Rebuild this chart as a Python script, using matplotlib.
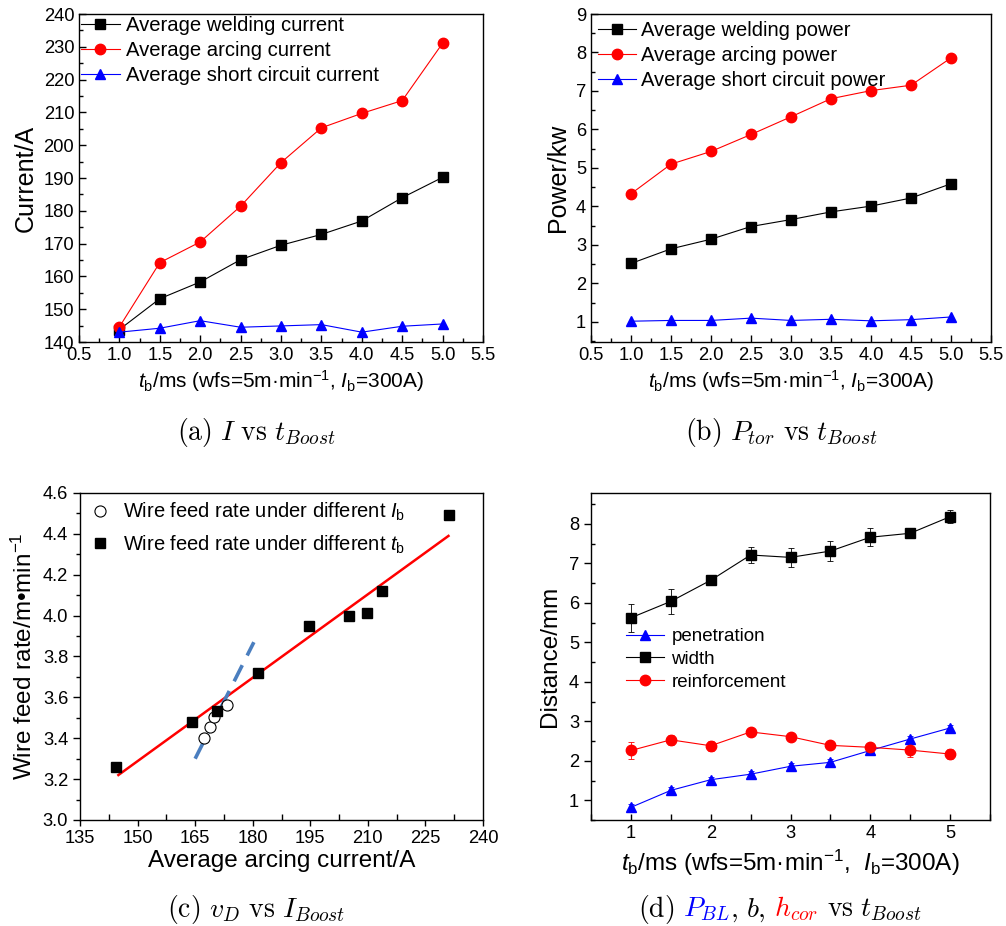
import numpy as np
import matplotlib
matplotlib.use("Agg")
import matplotlib.pyplot as plt
from matplotlib.ticker import MultipleLocator
from matplotlib.offsetbox import TextArea, HPacker, AnnotationBbox

plt.rcParams['font.family'] = ['Liberation Sans', 'DejaVu Sans']
plt.rcParams['mathtext.fontset'] = 'custom'
plt.rcParams['mathtext.rm'] = 'Liberation Sans'
plt.rcParams['mathtext.it'] = 'Liberation Sans:italic'
plt.rcParams['mathtext.bf'] = 'Liberation Sans:bold'

# ---------------- data ----------------
tb = [1.0, 1.5, 2.0, 2.5, 3.0, 3.5, 4.0, 4.5, 5.0]

weld_current = [143.8, 153.2, 158.3, 165.1, 169.5, 172.8, 176.9, 184.0, 190.2]
arc_current = [144.6, 164.2, 170.5, 181.4, 194.7, 205.3, 209.7, 213.6, 231.1]
short_current = [143.0, 144.2, 146.5, 144.5, 144.9, 145.3, 143.0, 144.8, 145.5]

weld_power = [2.52, 2.90, 3.15, 3.48, 3.66, 3.86, 4.01, 4.22, 4.59]
arc_power = [4.33, 5.10, 5.43, 5.87, 6.33, 6.80, 7.01, 7.15, 7.86]
short_power = [1.02, 1.04, 1.04, 1.10, 1.04, 1.07, 1.03, 1.06, 1.13]

ib_current = [167.3, 168.9, 170.0, 173.2]
ib_wfr = [3.40, 3.455, 3.503, 3.563]
tb_current = [144.5, 164.3, 170.6, 181.3, 194.7, 205.2, 209.7, 213.7, 231.2]
tb_wfr = [3.26, 3.48, 3.535, 3.72, 3.947, 4.00, 4.012, 4.122, 4.49]
fit_red_x = [145.0, 231.0]
fit_red_y = [3.22, 4.39]
fit_blue_x = [165.0, 180.3]
fit_blue_y = [3.30, 3.87]

width = [5.62, 6.035, 6.57, 7.21, 7.15, 7.31, 7.66, 7.76, 8.18]
width_err = [0.36, 0.31, 0.05, 0.20, 0.25, 0.26, 0.23, 0.06, 0.16]
reinf = [2.26, 2.53, 2.38, 2.73, 2.61, 2.39, 2.34, 2.27, 2.17]
reinf_err = [0.22, 0.12, 0.13, 0.05, 0.05, 0.08, 0.05, 0.17, 0.12]
pen = [0.82, 1.25, 1.52, 1.66, 1.86, 1.96, 2.26, 2.55, 2.83]
pen_err = [0.08, 0.08, 0.08, 0.08, 0.08, 0.08, 0.08, 0.08, 0.08]

# ---------------- figure ----------------
fig = plt.figure(figsize=(10.06, 9.26), dpi=100)
W, H = 1006.0, 926.0

def add_ax(l, t, r, b):
    return fig.add_axes([l / W, 1 - b / H, (r - l) / W, (b - t) / H])

axA = add_ax(79, 14, 483, 342)
axB = add_ax(591, 14, 991, 342)
axC = add_ax(80, 493, 483, 820)
axD = add_ax(591, 493, 990, 820)

TICK_FS = 13.2
for ax in (axA, axB, axC, axD):
    for s in ax.spines.values():
        s.set_linewidth(1.0)
    ax.tick_params(labelsize=TICK_FS, top=False, right=False)

def inner_ticks(ax):
    ax.tick_params(which='major', direction='in', length=5, width=1)
    ax.tick_params(which='minor', direction='in', length=3, width=1)

ms = 7.5
lw = 0.8

# (a)
axA.plot(tb, weld_current, '-s', color='black', lw=lw, ms=ms, label='Average welding current')
axA.plot(tb, arc_current, '-o', color='red', lw=lw, ms=ms, label='Average arcing current')
axA.plot(tb, short_current, '-^', color='blue', lw=lw, ms=ms, label='Average short circuit current')
axA.set_xlim(0.5, 5.5)
axA.set_ylim(140, 240)
axA.xaxis.set_minor_locator(MultipleLocator(0.25))
axA.yaxis.set_major_locator(MultipleLocator(10))
axA.yaxis.set_minor_locator(MultipleLocator(5))
axA.set_xticks(np.arange(0.5, 5.51, 0.5))
axA.set_xticklabels([f"{v:.1f}" for v in np.arange(0.5, 5.51, 0.5)])
inner_ticks(axA)
axA.set_ylabel('Current/A', fontsize=18, labelpad=4)
axA.set_xlabel(r'$t_{\mathrm{b}}$/ms (wfs=5m·min$^{-1}$, $I_{\mathrm{b}}$=300A)', fontsize=15, labelpad=3)
axA.legend(loc='upper left', frameon=False, fontsize=14.6, handlelength=1.9,
           handletextpad=0.3, labelspacing=0.3, borderaxespad=0.0, borderpad=0.1)

# (b)
axB.plot(tb, weld_power, '-s', color='black', lw=lw, ms=ms, label='Average welding power')
axB.plot(tb, arc_power, '-o', color='red', lw=lw, ms=ms, label='Average arcing power')
axB.plot(tb, short_power, '-^', color='blue', lw=lw, ms=ms, label='Average short circuit power')
axB.set_xlim(0.5, 5.5)
axB.set_ylim(0.48, 9)
axB.set_xticks(np.arange(0.5, 5.51, 0.5))
axB.set_xticklabels([f"{v:.1f}" for v in np.arange(0.5, 5.51, 0.5)])
axB.xaxis.set_minor_locator(MultipleLocator(0.25))
axB.set_yticks(np.arange(1, 9.01, 1))
axB.yaxis.set_minor_locator(MultipleLocator(0.5))
inner_ticks(axB)
axB.set_ylabel('Power/kw', fontsize=18, labelpad=4)
axB.set_xlabel(r'$t_{\mathrm{b}}$/ms (wfs=5m·min$^{-1}$, $I_{\mathrm{b}}$=300A)', fontsize=15, labelpad=3)
axB.legend(loc='upper left', frameon=False, fontsize=14.5, handlelength=1.9,
           handletextpad=0.25, labelspacing=0.3, borderaxespad=0.0, borderpad=0.35)

# (c)
axC.plot(fit_red_x, fit_red_y, '-', color='red', lw=1.8)
axC.plot(fit_blue_x, fit_blue_y, '--', color='#4a7ebf', lw=2.6, dashes=(5, 3))
axC.plot(ib_current, ib_wfr, 'o', mfc='white', mec='black', mew=0.8, ms=8,
         label=r'Wire feed rate under different $I_{\mathrm{b}}$')
axC.plot(tb_current, tb_wfr, 's', color='black', ms=7.5,
         label=r'Wire feed rate under different $t_{\mathrm{b}}$')
axC.set_xlim(135, 240)
axC.set_ylim(3.0, 4.6)
axC.set_xticks(np.arange(135, 240.1, 15))
axC.xaxis.set_minor_locator(MultipleLocator(7.5))
axC.set_yticks(np.arange(3.0, 4.61, 0.2))
axC.set_yticklabels([f"{v:.1f}" for v in np.arange(3.0, 4.61, 0.2)])
axC.yaxis.set_minor_locator(MultipleLocator(0.1))
axC.tick_params(axis='y', which='major', direction='out', length=5, width=1)
axC.tick_params(axis='y', which='minor', direction='out', length=3, width=1)
axC.tick_params(axis='x', which='major', direction='out', length=4, width=1)
axC.tick_params(axis='x', which='minor', direction='in', length=4, width=1)
axC.set_ylabel('Wire feed rate/m•min$^{-1}$', fontsize=17.5, labelpad=4)
axC.set_xlabel('Average arcing current/A', fontsize=17.5, labelpad=2)
axC.legend(loc='upper left', frameon=False, fontsize=14.5, handlelength=1.2,
           handletextpad=0.55, labelspacing=0.5, borderaxespad=0.2, borderpad=0.2)

# (d)
ebkw = dict(fmt='none', elinewidth=0.6, capsize=2.5, capthick=0.6)
axD.errorbar(tb, pen, yerr=pen_err, ecolor='blue', **ebkw)
axD.errorbar(tb, width, yerr=width_err, ecolor='black', **ebkw)
axD.errorbar(tb, reinf, yerr=reinf_err, ecolor='red', **ebkw)
axD.plot(tb, pen, '-^', color='blue', lw=lw, ms=ms, label='penetration')
axD.plot(tb, width, '-s', color='black', lw=lw, ms=ms, label='width')
axD.plot(tb, reinf, '-o', color='red', lw=lw, ms=ms, label='reinforcement')
axD.set_xlim(0.5, 5.5)
axD.set_ylim(0.5, 8.78)
axD.set_xticks([1, 2, 3, 4, 5])
axD.xaxis.set_minor_locator(MultipleLocator(0.5))
axD.set_yticks(np.arange(1, 8.01, 1))
axD.yaxis.set_minor_locator(MultipleLocator(0.5))
axD.tick_params(axis='y', which='major', direction='out', length=5, width=1)
axD.tick_params(axis='y', which='minor', direction='in', length=3, width=1)
axD.tick_params(axis='x', which='both', direction='in', length=4, width=1)
axD.set_ylabel('Distance/mm', fontsize=17.5, labelpad=6)
axD.set_xlabel(r'$t_{\mathrm{b}}$/ms (wfs=5m·min$^{-1}$,  $I_{\mathrm{b}}$=300A)', fontsize=17.5, labelpad=4)
axD.legend(loc='upper left', bbox_to_anchor=(0.07, 0.61), frameon=False, fontsize=13.5,
           handlelength=2.0, handletextpad=0.4, labelspacing=0.3, borderaxespad=0.0)

# captions
CAP_FS = 20
def caption(x, y, s):
    fig.text(x / W, 1 - y / H, s, fontsize=CAP_FS, math_fontfamily='cm',
             ha='center', va='center')

caption(256, 432, r'$\mathrm{(a)}\ I\ \mathrm{vs}\ t_{Boost}$')
caption(781, 432, r'$\mathrm{(b)}\ P_{tor}\ \mathrm{vs}\ t_{Boost}$')
caption(256, 909, r'$\mathrm{(c)}\ v_{D}\ \mathrm{vs}\ I_{Boost}$')

def ta(s, c):
    return TextArea(s, textprops=dict(color=c, fontsize=CAP_FS, math_fontfamily='cm'))

gap = 6
pb = HPacker(children=[ta(r'$P_{BL}$', 'blue'), ta(r'$,$', 'black')], pad=0, sep=0, align='baseline')
hc = HPacker(children=[ta(r'$h_{cor}$', 'red')], pad=0, sep=0, align='baseline')
parts = [ta(r'$\mathrm{(d)}$', 'black'), pb, ta(r'$b,$', 'black'), hc,
         ta(r'$\mathrm{vs}\ t_{Boost}$', 'black')]
pack = HPacker(children=parts, pad=0, sep=gap, align='baseline')
ab = AnnotationBbox(pack, (780 / W, 1 - 909 / H), xycoords='figure fraction',
                    frameon=False, box_alignment=(0.5, 0.5))
fig.add_artist(ab)

fig.savefig('out.png', dpi=100)
